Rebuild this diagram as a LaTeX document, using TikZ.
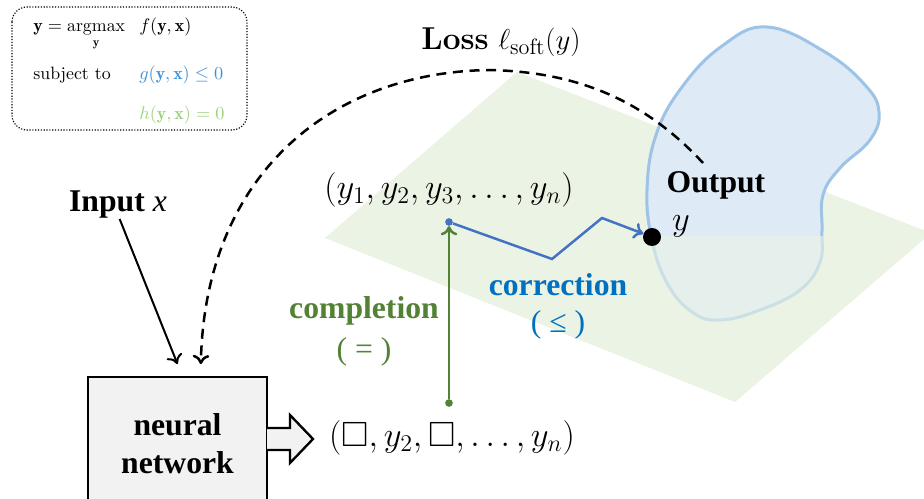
\documentclass[tikz,border=0pt]{standalone}
\usepackage{amsmath,amssymb,bm}
\usepackage{fontspec}
\usepackage{tikz}
\usetikzlibrary{arrows.meta,positioning,calc}
\newfontfamily\tms{Liberation Serif}
\definecolor{plgreen}{HTML}{EBF3E4}
\definecolor{blobfill}{HTML}{DEEAF6}
\definecolor{blobline}{HTML}{9DC3E6}
\definecolor{cgreen}{HTML}{548235}
\definecolor{cblue}{HTML}{0070C0}
\definecolor{lblue}{HTML}{4472C4}
\definecolor{gblue}{HTML}{3C8FD8}
\definecolor{hgreen}{HTML}{9BD27A}
\definecolor{nngray}{HTML}{F2F2F2}
\tikzset{
  % big serif labels, math vectors and the small constraint text
  big/.style    = {font=\tms\fontsize{19}{23}\selectfont\bfseries, align=center, inner sep=0pt},
  rel/.style    = {font=\tms\fontsize{19}{23}\selectfont, inner sep=0pt},
  vec/.style    = {font=\fontsize{21}{25}\selectfont, inner sep=0pt},
  cons/.style   = {font=\fontsize{10.7}{13}\selectfont, anchor=base west, inner sep=0pt},
  frame/.style  = {densely dotted, line width=0.7pt, rounded corners=9pt},
  nnbox/.style  = {draw, line width=1.5pt, fill=nngray, minimum width=107.4pt,
                   minimum height=79.8pt},
  hollow/.style = {draw, line width=1.4pt, fill=nngray, line join=miter},
  arr/.style    = {-{To[length=5.5pt,width=10pt]}, line width=1.2pt},
  lossarc/.style= {-{To[length=5.5pt,width=10pt]}, line width=1.5pt, dash pattern=on 6pt off 4pt},
  grnarr/.style = {-{To[length=5.5pt,width=10pt]}, line width=1.5pt, cgreen},
  bluarr/.style = {-{To[length=5.5pt,width=10pt]}, line width=1.5pt, lblue},
  dot/.style    = {circle, fill=#1, inner sep=0pt, minimum size=4.6pt},
  ydot/.style   = {circle, fill=black, inner sep=0pt, minimum size=10.8pt},
  blob/.style   = {fill=blobfill, draw=blobline, line width=1.8pt},
}
\begin{document}
\begin{tikzpicture}[x=0.6pt,y=-0.6pt]
\useasboundingbox (0,0) rectangle (924,499);
\clip (0,0) rectangle (924,499);
% feasible plane and output set
\fill[plgreen] (325,238) -- (517,72) -- (931,233) -- (735,402) -- cycle;
\draw[blob] plot[smooth cycle, tension=0.7] coordinates {
  (767,27) (722,46) (682,87) (656,135) (647,190) (652,240) (667,283) (692,312)
  (720,320) (760,310) (800,290) (820,262) (822,230) (823,195) (840,168)
  (870,140) (879,112) (865,85) (825,52)};
\begin{scope}
  \clip (0,237) rectangle (924,499);
  \fill[plgreen, opacity=0.6] (325,238) -- (517,72) -- (931,233) -- (735,402) -- cycle;
\end{scope}

% constraint box
\draw[frame] (12,7) rectangle (247,130);
\node[cons] (obj)  at (33,32)  {$\displaystyle \mathbf{y}=\operatorname*{argmax}_{\mathbf{y}}$};
\node[cons] (objf) at (139,32) {$f(\mathbf{y},\mathbf{x})$};
\node[cons] (subj) at (33,80)  {subject to};
\node[cons, text=gblue]  (ineq) at (139,80)  {$g(\mathbf{y},\mathbf{x})\leq 0$};
\node[cons, text=hgreen] (eq)   at (139,120) {$h(\mathbf{y},\mathbf{x})=0$};

% nodes
\node[font=\fontsize{19}{22}\selectfont, inner sep=0pt] (loss) at (501,42)
  {\textbf{Loss} $\ell_{\mathrm{soft}}(y)$};
\node[big] (input) at (118,205) {Input {\mdseries\itshape x}};
\node[nnbox, big] (nn) at (177.5,443.5) {neural\\network};
\node[vec] (vpart) at (452,438) {$(\square,y_2,\square,\ldots,y_n)$};
\node[vec] (vfull) at (449,190) {$(y_1,y_2,y_3,\ldots,y_n)$};
\node[dot=cgreen] (cmp) at (449,403) {};
\node[dot=lblue]  (cor) at (449,222) {};
\node[ydot] (yout) at (652,237) {};
\node[big] (outp) at (716,185) {Output};
\node[vec] (ylab) at (681,226) {$y$};
\node[big, text=cgreen] (cmplbl) at (364,311) {completion};
\node[rel, text=cgreen] (cmprel) at (364,352) {( = )};
\node[big, text=cblue]  (corlbl) at (558,285) {correction};
\node[rel, text=cblue]  (correl) at (558,325) {( ≤ )};
\coordinate (lstart) at (703,163);
\coordinate (ltop) at (490,70);
\coordinate (bend1) at (552,259);
\coordinate (bend2) at (602,218);

% connectors
\draw[arr] ([xshift=1pt]input.south) -- ([yshift=7pt]nn.north);
\draw[lossarc] (lstart) .. controls (640,95) and (570,72) .. (ltop)
  .. controls (330,72) and (205,175) .. ([xshift=14pt,yshift=7pt]nn.north);
\draw[hollow] (267,428) -- (290,428) -- (290,415) -- (313,439) -- (290,463)
  -- (290,450) -- (267,450);
\draw[grnarr] (cmp) -- (cor);
\draw[bluarr] (cor) -- (bend1) -- (bend2) -- (yout);
\end{tikzpicture}
\end{document}
